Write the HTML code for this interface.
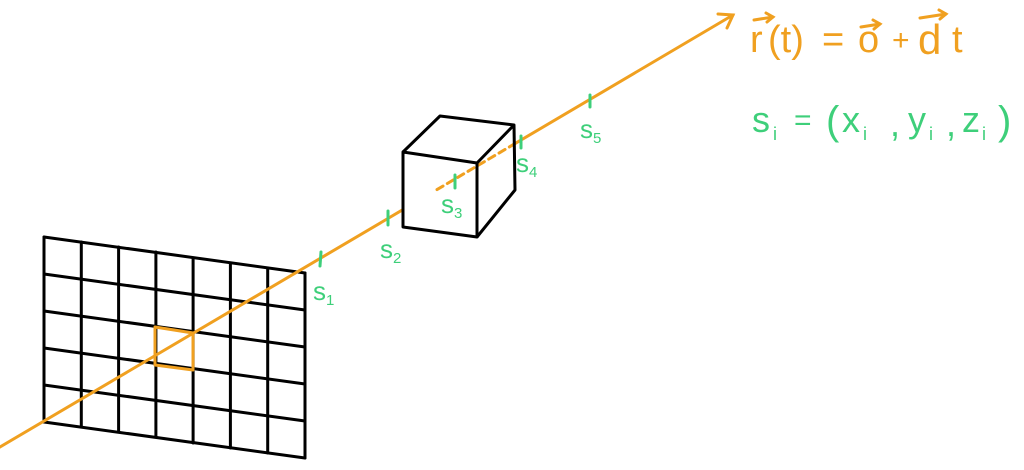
<!DOCTYPE html><html><head><style>body{margin:0;background:#fff}svg{display:block}</style></head><body>
<svg width="1024" height="470" viewBox="0 0 1024 470" xmlns="http://www.w3.org/2000/svg">
<g stroke="#000" stroke-width="3" fill="none" stroke-linecap="round">
<line x1="44" y1="237" x2="305" y2="273"/><line x1="44" y1="274" x2="305" y2="310"/><line x1="44" y1="311" x2="305" y2="347"/><line x1="44" y1="348" x2="305" y2="384"/><line x1="44" y1="385" x2="305" y2="421"/><line x1="44" y1="422" x2="305" y2="458"/>
<line x1="44" y1="237" x2="44" y2="422"/><line x1="81.3" y1="242" x2="81.3" y2="427"/><line x1="118.6" y1="247" x2="118.6" y2="432"/><line x1="155.9" y1="252" x2="155.9" y2="437"/><line x1="193.1" y1="258" x2="193.1" y2="443"/><line x1="230.4" y1="263" x2="230.4" y2="448"/><line x1="267.7" y1="268" x2="267.7" y2="453"/><line x1="305" y1="273" x2="305" y2="458"/>
</g>
<polygon points="155,327 193,333 193,370 155,365" fill="none" stroke="#f0a020" stroke-width="3" stroke-linejoin="round"/>
<g stroke="#f0a020" stroke-width="3" fill="none" stroke-linecap="round">
<line x1="0" y1="447" x2="403" y2="209.6"/>
<line x1="437" y1="189.6" x2="515" y2="143.6" stroke-dasharray="7,5"/>
<line x1="515" y1="143.6" x2="733" y2="15"/>
<polyline points="718,14 733,15 727,28"/>
</g>
<g stroke="#000" stroke-width="3" fill="none" stroke-linejoin="round">
<polygon points="403,152 477,163 477,237 403,227"/>
<polyline points="403,152 440,116 514,125 477,163"/>
<polyline points="514,125 515,190 477,237"/>
</g>
<g stroke="#3ecf7a" stroke-width="3" stroke-linecap="round">
<line x1="321" y1="252" x2="320" y2="266"/><line x1="388" y1="211" x2="388" y2="225"/><line x1="455" y1="175" x2="455" y2="188"/><line x1="521" y1="136" x2="521" y2="148"/><line x1="590" y1="95" x2="590" y2="107"/>
</g>
<g fill="#3ecf7a" font-family="Liberation Sans, sans-serif" font-size="26">
<text x="313" y="300">s<tspan font-size="15" dy="5">1</tspan></text>
<text x="380" y="258">s<tspan font-size="15" dy="5">2</tspan></text>
<text x="441" y="213">s<tspan font-size="15" dy="5">3</tspan></text>
<text x="516" y="172">s<tspan font-size="15" dy="5">4</tspan></text>
<text x="580" y="138">s<tspan font-size="15" dy="5">5</tspan></text>
<text x="752" y="132" font-size="36">s</text><text x="773" y="140" font-size="18">i</text>
<text x="794" y="130" font-size="30">=</text>
<text x="826" y="134" font-size="40">(</text>
<text x="842" y="132" font-size="36">x</text><text x="863" y="140" font-size="18">i</text>
<text x="890" y="136" font-size="36">,</text>
<text x="908" y="132" font-size="36">y</text><text x="929" y="140" font-size="18">i</text>
<text x="946" y="136" font-size="36">,</text>
<text x="962" y="132" font-size="36">z</text><text x="982" y="140" font-size="18">i</text>
<text x="998" y="134" font-size="40">)</text>
</g>
<g fill="#f0a020" font-family="Liberation Sans, sans-serif" font-size="38">
<text x="750" y="52">r</text><text x="768" y="52">(t)</text><text x="822" y="52">=</text>
<text x="858" y="52">o</text><text x="892" y="50" font-size="30">+</text>
<text x="918" y="54" font-size="42">d</text><text x="952" y="52">t</text>
</g>
<g stroke="#f0a020" stroke-width="3" fill="none" stroke-linecap="round">
<line x1="754" y1="20" x2="773" y2="17"/><polyline points="766,13 773,17 767,22"/>
<line x1="861" y1="27" x2="880" y2="24"/><polyline points="873,20 880,24 874,29"/>
<line x1="920" y1="18" x2="946" y2="14"/><polyline points="939,10 946,14 940,19"/>
</g>
</svg></body></html>
